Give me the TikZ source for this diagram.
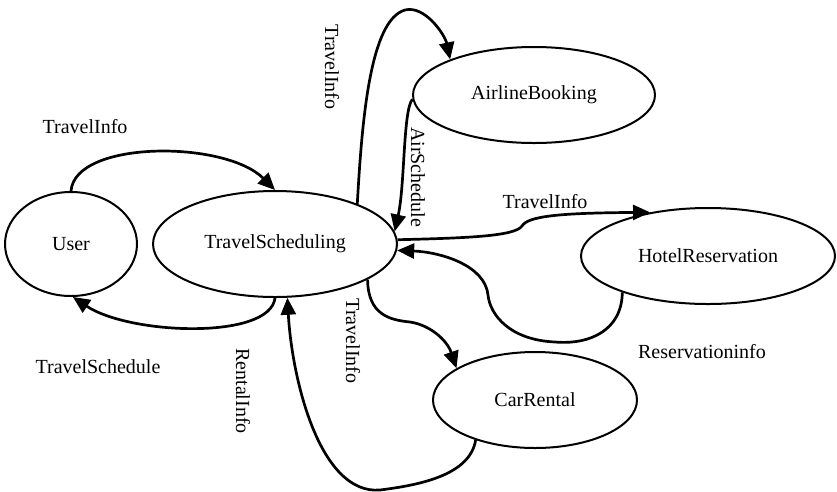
\documentclass[tikz,border=0pt]{standalone}
\usepackage{fontspec}
\setmainfont{Liberation Serif}
\usetikzlibrary{arrows.meta,shapes.geometric}
\begin{document}
\begin{tikzpicture}[x=1pt,y=-1pt,
  state/.style={draw,ellipse,line width=2pt,inner sep=0pt,font=\fontsize{20}{24}\selectfont},
  lbl/.style={font=\fontsize{20}{24}\selectfont,inner sep=0pt},
  vlbl/.style={lbl,rotate=-90},
  flow/.style={line width=2.7pt,-{Triangle[length=17pt,width=15pt]}}]
\useasboundingbox (0,0) rectangle (837,491);
\node[state,minimum width=132pt,minimum height=104pt] (user) at (71,244) {User};
\node[state,minimum width=244pt,minimum height=106pt] (ts) at (275,244) {TravelScheduling};
\node[state,minimum width=242pt,minimum height=96pt] (ab) at (534,95) {AirlineBooking};
\node[state,minimum width=254pt,minimum height=96pt] (hr) at (708,256) {HotelReservation};
\node[state,minimum width=204pt,minimum height=96pt] (cr) at (535,400) {CarRental};

\node[lbl] (l1) at (85,127) {TravelInfo};
\node[lbl] (l2) at (98,367) {TravelSchedule};
\node[vlbl] (l3) at (332,67) {TravelInfo};
\node[vlbl] (l4) at (418,177) {AirSchedule};
\node[lbl] (l5) at (545,202) {TravelInfo};
\node[lbl] (l6) at (702,352) {Reservationinfo};
\node[vlbl] (l7) at (353,341) {TravelInfo};
\node[vlbl] (l8) at (243,391) {RentalInfo};

\draw[flow] (user.north) .. controls (75,140) and (225,140) .. (ts.north);
\draw[flow] (ts.south) .. controls (270,340) and (130,335) .. (user.-88);
\draw[flow] (ts.26) .. controls (362,120) and (370,20) .. (405,10)
  .. controls (425,5) and (445,35) .. (ab.157);
\draw[flow] (ab.182) .. controls (403,110) and (405,185) .. (ts.6);
\draw[flow] (ts.2) .. controls (470,238) and (515,236) .. (522,226)
  .. controls (528,216) and (560,213) .. (hr.143);
\draw[flow] (hr.-157) .. controls (622,330) and (590,345) .. (555,342)
  .. controls (510,340) and (490,315) .. (488,295)
  .. controls (485,265) and (440,252) .. (ts.-3);
\draw[flow] (ts.-21) .. controls (368,315) and (390,320) .. (410,322)
  .. controls (430,325) and (447,340) .. (cr.158);
\draw[flow] (cr.-146) .. controls (470,475) and (420,485) .. (380,490)
  .. controls (320,495) and (292,380) .. (ts.-77);
\end{tikzpicture}
\end{document}
